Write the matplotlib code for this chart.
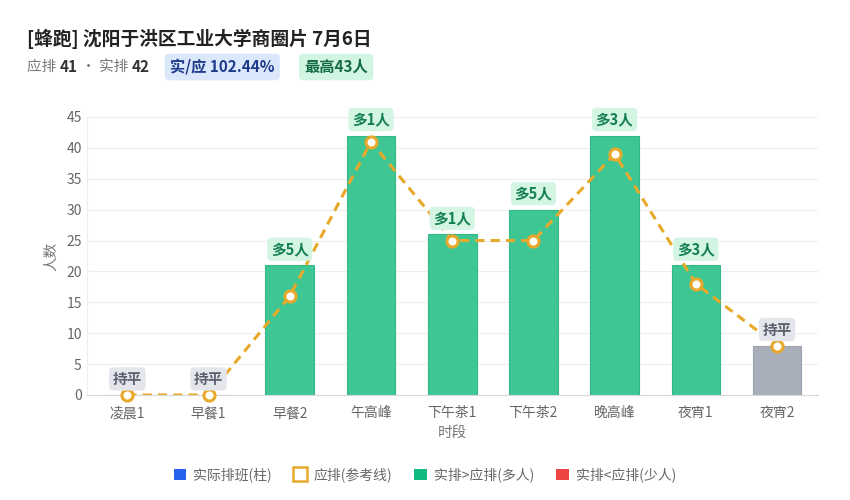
import matplotlib
matplotlib.use('Agg')
import matplotlib.pyplot as plt
from matplotlib.lines import Line2D
from matplotlib.patches import Patch

plt.rcParams['font.family'] = ['Noto Sans CJK SC', 'DejaVu Sans']

slots = ['凌晨1', '早餐1', '早餐2', '午高峰', '下午茶1', '下午茶2', '晚高峰', '夜宵1', '夜宵2']
actual = [0, 0, 21, 42, 26, 30, 42, 21, 8]
expected = [0, 0, 16, 41, 25, 25, 39, 18, 8]
title = '[蜂跑] 沈阳于洪区工业大学商圈片 7月6日'
need_total, real_total = 41, 42
ratio_txt = '实/应 102.44%'
peak_txt = '最高43人'

GREEN = '#3ec795'
GRAY_BAR = '#a9aebb'
ORANGE = '#e8a92a'

fig = plt.figure(figsize=(8.5, 5.0), dpi=100)
ax = fig.add_axes([0.102, 0.21, 0.86, 0.556])

x = list(range(len(slots)))
cols = [GREEN if a > e else (('#ef4444') if a < e else GRAY_BAR) for a, e in zip(actual, expected)]
edges = ['#35b886' if c == GREEN else '#9ea3b0' for c in cols]
ax.bar(x, actual, width=0.6, color=cols, edgecolor=edges, linewidth=0.8, zorder=2)
ax.plot(x, expected, '--', color=ORANGE, lw=2.2, dashes=(3, 2), zorder=3)
ax.plot(x, expected, 'o', ms=8, mfc='white', mec=ORANGE, mew=2.2, zorder=4, clip_on=False)

# 差值标签
for i, (a, e) in enumerate(zip(actual, expected)):
    d = a - e
    top = max(a, e)
    if d > 0:
        txt, fc, tc = '多%d人' % d, '#d4f5e4', '#14804f'
    elif d < 0:
        txt, fc, tc = '少%d人' % -d, '#fde2e2', '#b91c1c'
    else:
        txt, fc, tc = '持平', '#e4e6ec', '#5b6070'
    ax.text(i, top + 2.6, txt, ha='center', va='center', fontsize=10.5, fontweight='bold', color=tc,
            bbox=dict(boxstyle='round,pad=0.25,rounding_size=0.3', fc=fc, ec='none'), zorder=5)

ax.set_xlim(-0.5, len(slots) - 0.5)
ax.set_ylim(0, 45)
ax.set_yticks(range(0, 46, 5))
ax.set_xticks(x)
ax.set_xticklabels(slots)
ax.tick_params(axis='both', colors='#666666', labelsize=10, length=0)
ax.tick_params(axis='x', pad=8)
ax.grid(axis='y', color='#eeeeee', lw=0.8, zorder=0)
for s in ['top', 'right']:
    ax.spines[s].set_visible(False)
ax.spines['left'].set_color('#eeeeee')
ax.spines['bottom'].set_color('#d8d8d8')
ax.set_xlabel('时段', color='#777777', fontsize=10.5, labelpad=4)
ax.set_ylabel('人数', color='#777777', fontsize=10.5, labelpad=6)

# 标题 + 摘要
fig.text(0.032, 0.922, title, fontsize=13.5, fontweight='bold', color='#222222', va='center')
y2 = 0.866
t = fig.text(0.032, y2, '应排 ', fontsize=10.5, color='#777777', va='center')
fig.canvas.draw()
r = fig.canvas.get_renderer()


def nxt(t, s, **kw):
    bb = t.get_window_extent(renderer=r)
    return fig.text(bb.x1 / fig.bbox.width, y2, s, va='center', **kw)


t = nxt(t, str(need_total), fontsize=11, fontweight='bold', color='#333333')
t = nxt(t, ' · 实排 ', fontsize=10.5, color='#777777')
t = nxt(t, str(real_total), fontsize=11, fontweight='bold', color='#333333')
fig.text(0.2, y2, ratio_txt, va='center', fontsize=11, fontweight='bold',
         color='#1e3a8a', bbox=dict(boxstyle='round,pad=0.35,rounding_size=0.3', fc='#dbe7fb', ec='none'))
fig.text(0.358, y2, peak_txt, va='center', fontsize=11, fontweight='bold',
         color='#146c43', bbox=dict(boxstyle='round,pad=0.35,rounding_size=0.3', fc='#d2f4e3', ec='none'))

handles = [Patch(fc='#2563eb', ec='none'),
           Line2D([], [], ls='none', marker='s', ms=10, mfc='white', mec=ORANGE, mew=1.8),
           Patch(fc='#10b981', ec='none'),
           Patch(fc='#ef4444', ec='none')]
labels = ['实际排班(柱)', '应排(参考线)', '实排>应排(多人)', '实排<应排(少人)']
fig.legend(handles, labels, loc='center', bbox_to_anchor=(0.5, 0.05), ncol=4, frameon=False,
           fontsize=10, handlelength=0.9, handleheight=0.9, columnspacing=1.6, handletextpad=0.5,
           labelcolor='#666666')

fig.savefig('out.png', dpi=100)
